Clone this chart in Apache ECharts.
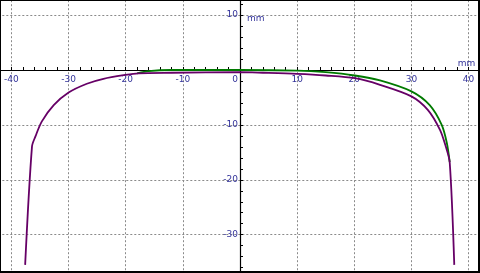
<!DOCTYPE html>
<html>
<head>
<meta charset="utf-8">
<script src="https://cdn.jsdelivr.net/npm/echarts@6/dist/echarts.min.js"></script>
<style>
html,body{margin:0;padding:0;background:#fff;}
#wrap{position:relative;width:480px;height:273px;}
#chart{width:480px;height:273px;}
#frame{position:absolute;left:0;top:0;right:0;bottom:0;border-style:solid;border-color:#000;border-width:1px 2px 2px 1px;pointer-events:none;}
</style>
</head>
<body>
<div id="wrap"><div id="chart"></div><div id="frame"></div></div>
<script>
// Purple profile (x mm, y mm)
const purpleX = [-37.6, -36.4, -35.8, -34.7, -32.6, -30.0, -26.8, -23.9, -20.1, -17.8, -12, 0, 4, 10, 15, 20.1, 24.5, 30.0, 32.9, 35.0, 36.0, 36.7, 37.5];
const purpleY = [-35.5, -13.9, -12.1, -9.4, -6.4, -4.1, -2.5, -1.6, -0.9, -0.6, -0.5, -0.4, -0.5, -0.7, -1.0, -1.5, -2.7, -4.8, -7.3, -10.9, -13.9, -16.8, -35.5];
// Green profile (x mm, y mm)
const greenX = [-18.0, -16.0, -12, 0, 10, 15, 20.1, 24.5, 30.0, 33.2, 35.3, 36.2, 36.7];
const greenY = [-0.6, -0.2, 0.0, 0.0, -0.1, -0.4, -1.0, -1.9, -3.9, -6.4, -10.0, -13.3, -16.8];
// Axis labels
const xTickLabels = [-40, -30, -20, -10, 0, 10, 20, 30, 40];
const yTickLabels = [10, -10, -20, -30];

const zip = (xs, ys) => xs.map((x, i) => [x, ys[i]]);
const labelColor = '#33339a';
const font = 'DejaVu Sans';

const chart = echarts.init(document.getElementById('chart'));
chart.setOption({
  animation: false,
  backgroundColor: '#fff',
  grid: { left: -45.7, right: -45.7, top: -39.8, bottom: -16.6, containLabel: false, outerBoundsMode: 'none' },
  xAxis: {
    type: 'value', min: -50, max: 50, interval: 10,
    position: 'top', offset: -109.8,
    name: 'mm', nameLocation: 'end', nameGap: -50.5, nameMoveOverlap: false,
    nameTextStyle: { color: labelColor, fontFamily: font, fontSize: 9, align: 'right', verticalAlign: 'bottom', padding: [0, 0, 2, 0] },
    axisLine: { onZero: false, lineStyle: { color: '#000', width: 1.2 } },
    axisTick: { show: true, inside: false, length: 3, lineStyle: { color: '#000' } },
    minorTick: { show: true, splitNumber: 5, length: 3, lineStyle: { color: '#000' } },
    axisLabel: {
      inside: true, margin: 5, color: labelColor, fontFamily: font, fontSize: 9, hideOverlap: false,
      formatter: v => xTickLabels.indexOf(v) < 0 ? '' : (v === 0 ? '{z|0}' : String(v)),
      rich: { z: { color: labelColor, fontFamily: font, fontSize: 9, padding: [0, 10, 0, 0] } }
    },
    splitLine: { show: true, lineStyle: { color: '#8a8a8a', width: 1, type: [2, 2] } }
  },
  yAxis: {
    type: 'value', min: -40, max: 20, interval: 10,
    position: 'left', offset: -285.7,
    name: 'mm', nameLocation: 'end', nameGap: -58, nameMoveOverlap: false,
    nameTextStyle: { color: labelColor, fontFamily: font, fontSize: 9, align: 'left', verticalAlign: 'middle', padding: [0, 0, 0, 7] },
    axisLine: { onZero: false, lineStyle: { color: '#000', width: 1.2 } },
    axisTick: { show: true, inside: true, length: 3, lineStyle: { color: '#000' } },
    minorTick: { show: true, splitNumber: 5, length: 3, lineStyle: { color: '#000' } },
    axisLabel: {
      margin: 2, color: labelColor, fontFamily: font, fontSize: 9, hideOverlap: false,
      formatter: v => yTickLabels.indexOf(v) < 0 ? '' : String(v)
    },
    splitLine: { show: true, lineStyle: { color: '#8a8a8a', width: 1, type: [2, 2] } }
  },
  series: [
    { type: 'line', data: zip(greenX, greenY), showSymbol: false, smooth: 0.3, lineStyle: { color: '#007a00', width: 1.8 }, z: 2 },
    { type: 'line', data: zip(purpleX, purpleY), showSymbol: false, smooth: 0.3, lineStyle: { color: '#660066', width: 1.8 }, z: 3 }
  ]
});
</script>
</body>
</html>
